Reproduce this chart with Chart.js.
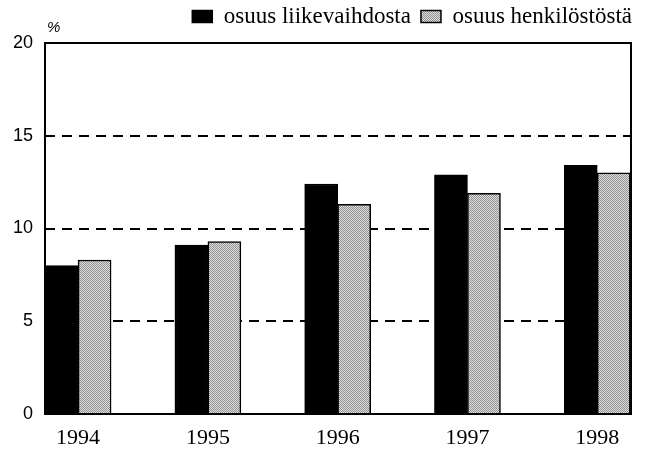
<!DOCTYPE html>
<html>
<head>
<meta charset="utf-8">
<script src="https://cdn.jsdelivr.net/npm/chart.js@4/dist/chart.umd.min.js"></script>
<style>
  html,body{margin:0;padding:0;background:#fff;}
  #wrap{width:645px;height:449px;position:relative;}
</style>
</head>
<body>
<div id="wrap"><canvas id="c"></canvas></div>
<script>
'use strict';

// ── DATA ────────────────────────────────────────────────
const years = ['1994','1995','1996','1997','1998'];
const turnoverShare = [8.0, 9.1, 12.4, 12.9, 13.4];   // osuus liikevaihdosta
const staffShare    = [8.3, 9.3, 11.3, 11.9, 13.0];   // osuus henkilöstöstä
const yTicks = [0, 5, 10, 15, 20];
const seriesLabels = ['osuus liikevaihdosta', 'osuus henkilöstöstä'];

// ── STIPPLE PATTERN ─────────────────────────────────────
function stipple(){
  const p=document.createElement('canvas');
  p.width=2; p.height=2;
  const g=p.getContext('2d');
  g.fillStyle='#e0e0e0'; g.fillRect(0,0,2,2);
  g.fillStyle='#909090'; g.fillRect(0,0,1,1); g.fillRect(1,1,1,1);
  return g.createPattern(p,'repeat');
}
const grey=stipple();

// ── FRAME + % LABEL PLUGIN ─────────────────────────────
const framePlugin={
  id:'frame',
  afterLayout(chart){
    // nudge legend to sit flush right / higher, like the print
    const l=chart.legend;
    if(!l) return;
    l.left+=11; l.right+=11;
    l.top-=5; l.bottom-=5;
  },
  afterDatasetsDraw(chart){
    const {ctx,chartArea:a}=chart;
    ctx.save();
    ctx.strokeStyle='#000';
    ctx.lineWidth=2;
    ctx.strokeRect(a.left,a.top,a.right-a.left,a.bottom-a.top);
    ctx.font="italic 15px 'Liberation Sans'";
    ctx.fillStyle='#000';
    ctx.textAlign='left';
    ctx.textBaseline='middle';
    ctx.fillText('%',a.left+2,a.top-15);
    ctx.restore();
  }
};

const toPts=arr=>arr.map((v,i)=>({x:i,y:v}));

new Chart(document.getElementById('c').getContext('2d'),{
  type:'bar',
  data:{
    datasets:[
      {label:seriesLabels[0],data:toPts(turnoverShare),backgroundColor:'#000',borderColor:'#000',borderWidth:1.5,barThickness:33},
      {label:seriesLabels[1],data:toPts(staffShare),backgroundColor:grey,borderColor:'#000',borderWidth:1.5,barThickness:33}
    ]
  },
  options:{
    responsive:true,
    maintainAspectRatio:false,
    animation:false,
    layout:{padding:{left:0,right:14,top:0,bottom:0}},
    plugins:{
      tooltip:{enabled:false},
      legend:{
        position:'top',
        align:'end',
        labels:{
          color:'#000',
          font:{family:"'Liberation Serif'",size:23},
          boxWidth:20,
          boxHeight:12,
          padding:10
        }
      }
    },
    scales:{
      x:{
        type:'linear',
        offset:false,
        min:-0.255,
        max:4.26,
        afterBuildTicks:s=>{ s.ticks=years.map((_,i)=>({value:i})); },
        afterFit:s=>{ s.height=35; },
        ticks:{
          callback:v=>years[v],
          color:'#000',
          font:{family:"'Liberation Serif'",size:22},
          padding:11,
          maxRotation:0
        },
        grid:{display:false,drawTicks:false,offset:false},
        border:{display:false}
      },
      y:{
        min:0,
        max:20,
        afterBuildTicks:s=>{ s.ticks=yTicks.map(v=>({value:v})); },
        afterFit:s=>{ s.width=45; },
        ticks:{
          color:'#000',
          font:{family:"'Liberation Sans'",size:18},
          padding:12
        },
        grid:{
          drawTicks:false,
          color:c=>(c.tick&&c.tick.value>0&&c.tick.value<20)?'#000':'rgba(0,0,0,0)',
          lineWidth:2
        },
        border:{display:false,dash:[10,7]}
      }
    }
  },
  plugins:[framePlugin]
});
</script>
</body>
</html>
